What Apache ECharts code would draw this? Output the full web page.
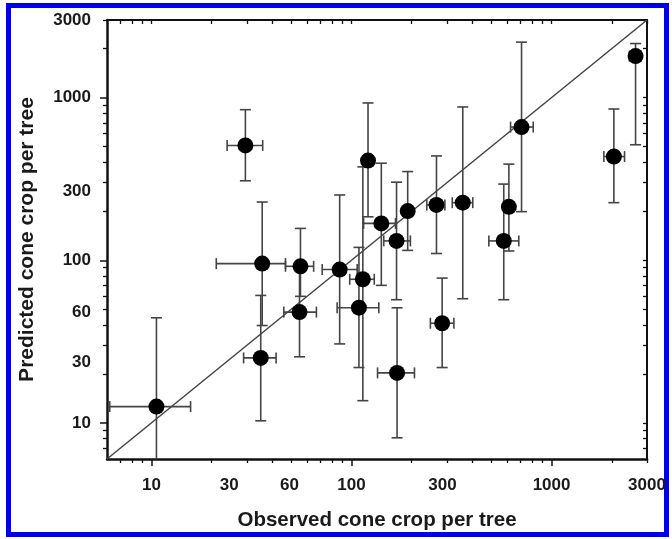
<!DOCTYPE html>
<html>
<head>
<meta charset="utf-8">
<script src="https://cdn.jsdelivr.net/npm/echarts@6/dist/echarts.min.js"></script>
<style>
  html, body { margin: 0; padding: 0; background: #fff; }
  #frame { position: absolute; left: 6px; top: 3px; width: 663px; height: 534px; box-sizing: border-box; border: 5px solid #0000f0; }
  #chart { position: absolute; left: 0; top: 0; width: 672px; height: 539px; }
</style>
</head>
<body>
<div id="frame"></div>
<div id="chart"></div>
<script>
// observed vs predicted cone crop per tree (one entry per tree)
const obsX  = [10.6, 29.5, 35.2, 35.8, 55.6, 55, 87.3, 109, 114, 121, 141, 168, 169, 191, 266, 284, 360, 577, 612, 708, 2049, 2630];
const predY = [12.6, 508, 25.1, 95.4, 91.8, 48, 87.7, 51.1, 76.4, 410, 168.5, 131.5, 20.3, 200.5, 219, 41, 226, 131.5, 213, 659, 434, 1799];
// error bar ends (null = no visible bar)
const xLow  = [6.19, 23.9, 28.9, 21.1, 46.8, 45.9, 71.4, 84.8, 98, null, 115, 145, 135, null, 238, 248, 319, 486, null, 624, 1826, 2450];
const xHigh = [15.7, 36, 42, 46.8, 64.7, 66.8, 106.8, 137, 130, null, 166, 197, 206.5, null, 293, 325, 404, 686, null, 810, 2317, 2800];
const yLow  = [5, 308, 10.3, 39.7, 60, 25.5, 30.6, 21.9, 13.7, 185, 70.1, 57.2, 8.1, 115, 110, 21.9, 58, 57.2, 114, 199, 226, 513];
const yHigh = [44.3, 843, 60.8, 228, 157, 90, 252, 120, 375, 927, 395, 302, 51, 351, 438, 77.7, 876, 294, 390, 2193, 851, 2150];

const axisMin = 6, axisMax = 3000;
const majorTicks = [10, 100, 1000];
const minorTicks = [7, 8, 9, 20, 30, 40, 50, 60, 70, 80, 90, 200, 300, 400, 500, 600, 700, 800, 900, 2000, 3000];
// tick labels sit where the figure prints them
const xLabelText = ['10', '30', '60', '100', '300', '1000', '3000'];
const xLabelAt   = [10, 24.5, 49, 100, 285, 1000, 3000];
const yLabelText = ['10', '30', '60', '100', '300', '1000', '3000'];
const yLabelAt   = [10, 23.5, 48, 100, 264, 1000, 3000];

const lg = Math.log10;
const num = v => (v == null ? NaN : lg(v));
const font = 'Liberation Sans, Arial, sans-serif';

function axisSet(dim, labelAt, labelText, name, nameGap, nameSize, labelMargin) {
  const near = dim === 'x' ? 'bottom' : 'left';
  const far = dim === 'x' ? 'top' : 'right';
  const base = { type: 'value', min: lg(axisMin), max: lg(axisMax), splitLine: { show: false } };
  return [
    Object.assign({}, base, {
      position: near,
      name: name, nameLocation: 'middle', nameGap: nameGap,
      nameTextStyle: { fontFamily: font, fontWeight: 'bold', fontSize: nameSize, color: '#1a1a1a' },
      axisLine: { show: true, lineStyle: { color: '#111', width: 2.5 } },
      axisTick: { show: true, customValues: majorTicks.map(lg), length: 7, lineStyle: { color: '#111', width: 1.5 } },
      axisLabel: {
        show: true, customValues: labelAt.map(lg), margin: labelMargin,
        fontFamily: font, fontWeight: 'bold', fontSize: 17, color: '#1a1a1a',
        formatter: v => labelText[labelAt.findIndex(a => Math.abs(lg(a) - v) < 1e-6)] || ''
      }
    }),
    Object.assign({}, base, {
      position: near,
      axisLine: { show: false },
      axisTick: { show: true, customValues: minorTicks.map(lg), length: 4, lineStyle: { color: '#111', width: 1.3 } },
      axisLabel: { show: false }
    }),
    Object.assign({}, base, {
      position: far,
      axisLine: { show: true, lineStyle: { color: '#111', width: 2 } },
      axisTick: { show: true, inside: true, customValues: majorTicks.concat(minorTicks).map(lg), length: 4, lineStyle: { color: '#111', width: 1.3 } },
      axisLabel: { show: false }
    })
  ];
}

const pts = obsX.map((x, i) => [lg(x), lg(predY[i])]);
const bars = obsX.map((x, i) => [lg(x), lg(predY[i]), num(xLow[i]), num(xHigh[i]), num(yLow[i]), num(yHigh[i])]);

function renderBars(params, api) {
  const x = api.value(0), y = api.value(1);
  const cap = 5.5;
  const style = { stroke: '#444', lineWidth: 1.6 };
  const kids = [];
  const seg = (x1, y1, x2, y2) => kids.push({ type: 'line', shape: { x1, y1, x2, y2 }, style });
  const xl = api.value(2), xh = api.value(3), yl = api.value(4), yh = api.value(5);
  if (isFinite(xl) && isFinite(xh)) {
    const a = api.coord([xl, y]), b = api.coord([xh, y]);
    seg(a[0], a[1], b[0], b[1]);
    seg(a[0], a[1] - cap, a[0], a[1] + cap);
    seg(b[0], b[1] - cap, b[0], b[1] + cap);
  }
  if (isFinite(yl) && isFinite(yh)) {
    const a = api.coord([x, yl]), b = api.coord([x, yh]);
    seg(a[0], a[1], b[0], b[1]);
    seg(a[0] - cap, a[1], a[0] + cap, a[1]);
    seg(b[0] - cap, b[1], b[0] + cap, b[1]);
  }
  return { type: 'group', children: kids };
}

const chart = echarts.init(document.getElementById('chart'), null, { renderer: 'canvas' });
chart.setOption({
  animation: false,
  backgroundColor: 'transparent',
  grid: { left: 107, right: 25, top: 20, bottom: 80, outerBoundsMode: 'none' },
  xAxis: axisSet('x', xLabelAt, xLabelText, 'Observed cone crop per tree', 51, 20.5, 18),
  yAxis: axisSet('y', yLabelAt, yLabelText, 'Predicted cone crop per tree', 69, 21, 16),
  series: [
    {
      type: 'line', xAxisIndex: 0, yAxisIndex: 0,
      data: [[lg(axisMin), lg(axisMin)], [lg(axisMax), lg(axisMax)]],
      symbol: 'none', lineStyle: { color: '#444', width: 1.5 }, z: 1, silent: true
    },
    {
      type: 'custom', xAxisIndex: 0, yAxisIndex: 0,
      data: bars, renderItem: renderBars, clip: true, z: 2, silent: true
    },
    {
      type: 'scatter', xAxisIndex: 0, yAxisIndex: 0,
      data: pts, symbol: 'circle', symbolSize: 16,
      itemStyle: { color: '#000', opacity: 1 }, z: 3
    }
  ]
});
</script>
</body>
</html>
